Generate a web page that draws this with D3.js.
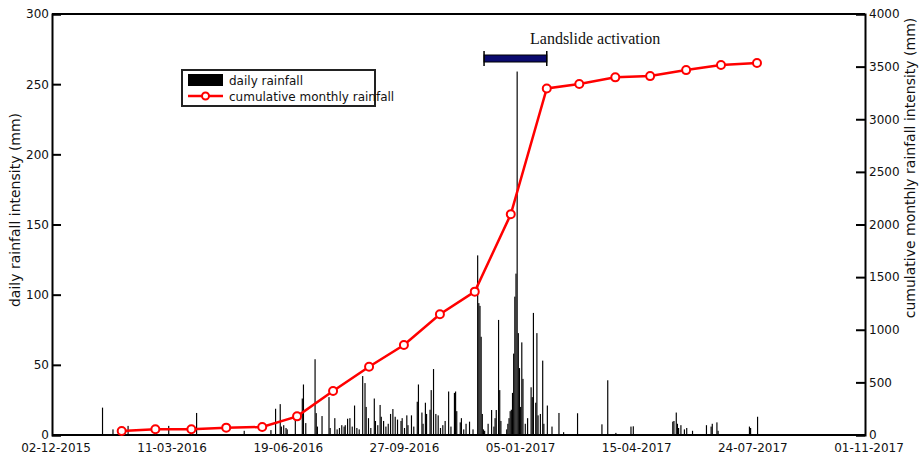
<!doctype html>
<html>
<head>
	<meta charset="utf-8">
	<title>Daily and cumulative rainfall</title>
	<script src="https://cdnjs.cloudflare.com/ajax/libs/d3/7.8.5/d3.min.js"></script>
	<style>
		body { margin: 0; background: white; }
		text { font-family: "DejaVu Sans", Verdana, sans-serif; font-size: 12px; fill: #111; }
		.serif { font-family: "Liberation Serif", "Times New Roman", serif; font-size: 16px; }
		.axlabel { font-size: 14px; }
	</style>
</head>
<body>
	<script>
		var startDate = '2015-12-02';
		var endDate = '2017-11-01';

		// daily rainfall: day number after 02-12-2015 and rainfall (mm)
		var rainDay = [43, 52, 65, 100, 124, 165, 188, 192, 196, 197, 199, 201, 202, 209,
			215, 216, 218, 226, 227, 228, 232, 238, 239, 243, 245, 247, 249, 251, 252, 254, 256, 258,
			260, 262, 264, 267, 269, 270, 272, 274, 277, 278, 280, 282, 283, 285, 287, 289, 291, 293,
			295, 297, 300, 301, 303, 305, 306, 309, 311, 314, 315, 318, 319, 321, 322, 325, 326, 328,
			330, 332, 334, 336, 338, 341, 343, 346, 347, 348, 351, 352, 354, 356, 359, 362,
			366, 367, 368, 369, 370, 371, 372, 375, 378, 380, 381, 382, 384, 385, 386, 391, 392, 393,
			394, 395, 396, 397, 398, 399, 400, 401, 402, 403, 404, 405, 407, 409, 412, 413, 414, 416,
			417, 418, 420, 422, 423, 426, 430, 436, 440, 452, 473, 478, 485, 498, 500,
			534, 535, 537, 538, 539, 541, 544, 546, 551, 563, 567, 568, 572, 573, 600, 601, 607];
		var rainMm = [19.5, 4, 6.5, 6.5, 15.7, 3, 3.5, 18.7, 22, 6, 7, 5, 4, 10.7,
			26, 36, 8.5, 54, 15.6, 6, 13.5, 27, 5, 12, 4, 5, 7, 6, 7, 11.6, 12, 6,
			21, 5, 4, 42, 37, 20, 12, 5, 26, 10, 7, 21.4, 13, 10, 6, 8, 15, 18.5,
			13, 11, 10, 12, 5, 14, 7, 14, 6, 23.7, 36, 16, 8, 23, 15, 18, 32, 47,
			15, 14, 5, 7, 10, 31, 6, 30, 31, 17, 9, 12, 4, 8, 9.5, 4,
			128, 94, 92, 70, 15, 4, 3, 8, 17.8, 6, 12, 17.8, 82, 32, 10, 4, 8, 12,
			17, 18, 30, 58, 98.6, 115, 259, 72.6, 47.7, 20, 66, 40, 8, 12, 34, 27, 87, 23,
			72.6, 14, 15, 53, 8, 21, 6, 15.7, 2, 15.5, 7.6, 39, 1.5, 6, 6.2,
			9.5, 10, 16, 8, 5, 7, 4, 5, 3, 7, 6, 8, 9, 3, 6, 5, 13];

		// cumulative monthly rainfall at the end of each month
		var monthEnd = ['2016-01-31', '2016-02-29', '2016-03-31', '2016-04-30', '2016-05-31', '2016-06-30',
			'2016-07-31', '2016-08-31', '2016-09-30', '2016-10-31', '2016-11-30', '2016-12-31',
			'2017-01-31', '2017-02-28', '2017-03-31', '2017-04-30', '2017-05-31', '2017-06-30', '2017-07-31'];
		var cumMm = [38, 54, 54, 70, 76, 177, 418, 649, 855, 1147, 1362, 2097,
			3293, 3335, 3398, 3410, 3467, 3515, 3535];

		var xTicks = ['2015-12-02', '2016-03-11', '2016-06-19', '2016-09-27', '2017-01-05', '2017-04-15', '2017-07-24', '2017-11-01'];
		var leftTicks = [0, 50, 100, 150, 200, 250, 300];
		var rightTicks = [0, 500, 1000, 1500, 2000, 2500, 3000, 3500, 4000];
		var activation = ['2016-12-08', '2017-01-31'];

		var parse = d3.utcParse('%Y-%m-%d');
		var fmt = d3.utcFormat('%d-%m-%Y');
		var start = parse(startDate);

		var W = 919, H = 460;
		var plotL = 52, plotR = 865, plotT = 14, plotB = 435;

		var svg = d3.select('body').append('svg')
			.attr('width', W)
			.attr('height', H);

		var x = d3.scaleUtc().domain([start, parse(endDate)]).range([plotL, plotR]);
		var yL = d3.scaleLinear().domain([0, 300]).range([plotB, plotT]);
		var yR = d3.scaleLinear().domain([0, 4000]).range([plotB, plotT]);

		// daily bars
		var bars = rainDay.map(function (d, i) {
			return { date: d3.utcDay.offset(start, d), v: rainMm[i] };
		});
		svg.append('g').selectAll('rect')
			.data(bars)
			.enter()
			.append('rect')
			.attr('x', function (d) { return x(d.date); })
			.attr('width', function (d) { return x(d3.utcDay.offset(d.date, 1)) - x(d.date); })
			.attr('y', function (d) { return yL(d.v); })
			.attr('height', function (d) { return plotB - yL(d.v); })
			.attr('fill', '#000');

		// frame and axes
		svg.append('line').attr('x1', plotL).attr('x2', plotR).attr('y1', plotT).attr('y2', plotT)
			.attr('stroke', '#000').attr('stroke-width', 2);
		svg.append('line').attr('x1', plotL).attr('x2', plotR).attr('y1', plotB).attr('y2', plotB)
			.attr('stroke', '#000').attr('stroke-width', 2);

		var axL = svg.append('g')
			.attr('transform', 'translate(' + plotL + ',0)')
			.call(d3.axisLeft(yL).tickValues(leftTicks).tickSize(-9).tickPadding(3).tickFormat(d3.format('d')));
		var axR = svg.append('g')
			.attr('transform', 'translate(' + plotR + ',0)')
			.call(d3.axisRight(yR).tickValues(rightTicks).tickSize(-9).tickPadding(4).tickFormat(d3.format('d')));
		[axL, axR].forEach(function (ax) {
			ax.select('.domain').attr('stroke-width', 2);
			ax.selectAll('.tick line').attr('stroke-width', 2);
			ax.selectAll('text').attr('font-size', 12).attr('font-family', '"DejaVu Sans", sans-serif').attr('fill', '#111');
		});

		// date labels sit a little right of their day
		svg.append('g').selectAll('text')
			.data(xTicks)
			.enter()
			.append('text')
			.attr('x', function (d) { return x(parse(d)) + 4; })
			.attr('y', 452)
			.attr('text-anchor', 'middle')
			.text(function (d) { return fmt(parse(d)); });

		svg.append('text')
			.attr('class', 'axlabel')
			.attr('transform', 'translate(20,210) rotate(-90)')
			.attr('text-anchor', 'middle')
			.text('daily rainfall intensity (mm)');
		svg.append('text')
			.attr('class', 'axlabel')
			.attr('transform', 'translate(915,168) rotate(-90)')
			.attr('text-anchor', 'middle')
			.text('cumulative monthly rainfall intensity (mm)');

		// cumulative line
		var pts = monthEnd.map(function (d, i) { return { date: parse(d), v: cumMm[i] }; });
		var line = d3.line()
			.x(function (d) { return x(d.date); })
			.y(function (d) { return yR(d.v); });
		svg.append('path')
			.datum(pts)
			.attr('d', line)
			.attr('fill', 'none')
			.attr('stroke', '#f00')
			.attr('stroke-width', 2.5);
		svg.append('g').selectAll('circle')
			.data(pts)
			.enter()
			.append('circle')
			.attr('cx', function (d) { return x(d.date); })
			.attr('cy', function (d) { return yR(d.v); })
			.attr('r', 4)
			.attr('fill', 'white')
			.attr('stroke', '#f00')
			.attr('stroke-width', 2);

		// landslide activation period
		var a0 = x(parse(activation[0])), a1 = x(parse(activation[1]));
		svg.append('rect')
			.attr('x', a0).attr('y', 55)
			.attr('width', a1 - a0).attr('height', 7)
			.attr('fill', '#0a0a6e')
			.attr('stroke', '#000')
			.attr('stroke-width', 1);
		[a0, a1].forEach(function (ax) {
			svg.append('line').attr('x1', ax).attr('x2', ax).attr('y1', 51).attr('y2', 66)
				.attr('stroke', '#000').attr('stroke-width', 1.5);
		});
		svg.append('text')
			.attr('class', 'serif')
			.attr('x', 530)
			.attr('y', 44)
			.text('Landslide activation');

		// legend
		var lg = svg.append('g').attr('transform', 'translate(182,70)');
		lg.append('rect')
			.attr('width', 193).attr('height', 36)
			.attr('fill', 'white')
			.attr('stroke', '#222')
			.attr('stroke-width', 2);
		lg.append('rect')
			.attr('x', 6).attr('y', 4).attr('width', 35).attr('height', 12)
			.attr('fill', '#000');
		lg.append('text').attr('x', 47).attr('y', 15).text('daily rainfall');
		lg.append('line').attr('x1', 6).attr('x2', 41).attr('y1', 26).attr('y2', 26)
			.attr('stroke', '#f00').attr('stroke-width', 2.5);
		lg.append('circle').attr('cx', 23.5).attr('cy', 26).attr('r', 3.5)
			.attr('fill', 'white').attr('stroke', '#f00').attr('stroke-width', 2);
		lg.append('text').attr('x', 47).attr('y', 31).text('cumulative monthly rainfall');
	</script>
</body>
</html>
